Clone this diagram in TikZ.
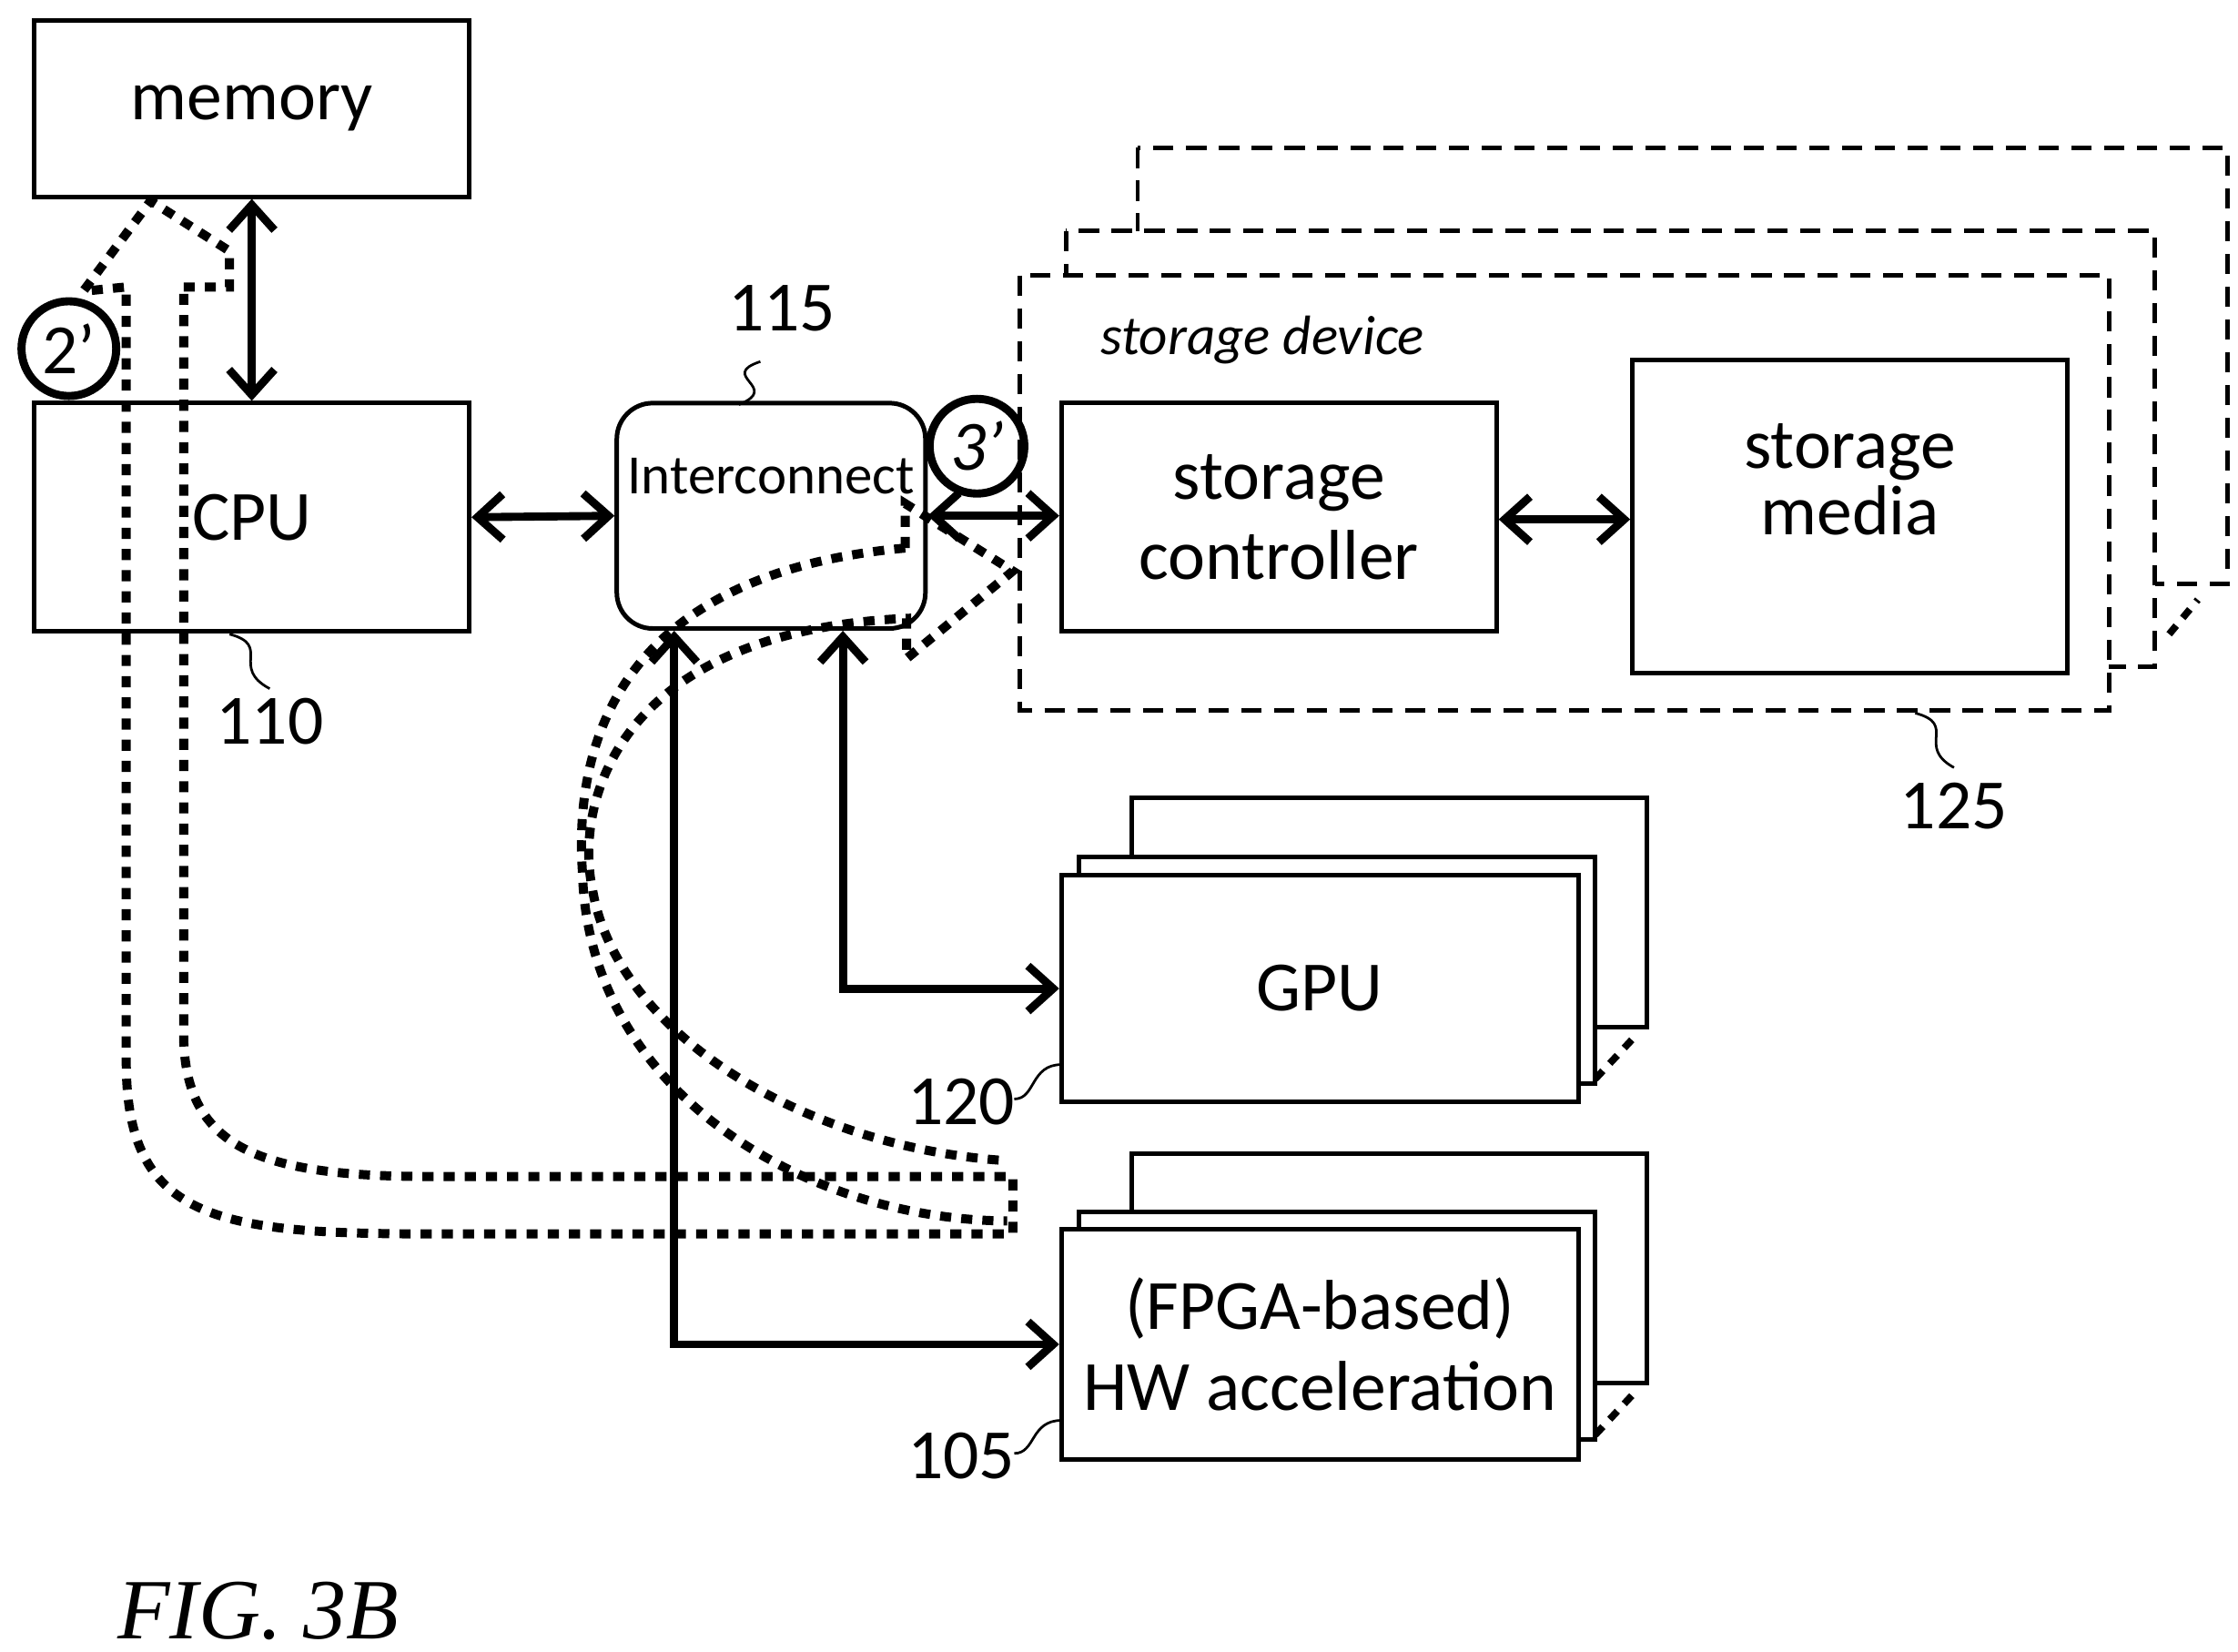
\documentclass[tikz,border=0pt]{standalone}
\usepackage{fontspec}
\setmainfont{Carlito}
\newfontfamily\figfont{Liberation Serif}
\usetikzlibrary{arrows.meta}

\tikzset{
  box/.style={draw, line width=0.9pt, fill=white, inner sep=0pt, font=\fontsize{14}{16}\selectfont, align=center},
  stackbox/.style={draw, line width=0.9pt, fill=white},
  dev/.style={draw, line width=0.9pt, dashed, dash pattern=on 4pt off 2.5pt, fill=white},
  biarrow/.style={line width=1.6pt, {Straight Barb[length=5pt,width=9pt]}-{Straight Barb[length=5pt,width=9pt]}},
  flow/.style={line width=1.8pt, dash pattern=on 2.2pt off 2pt},
  num/.style={font=\fontsize{14}{16}\selectfont},
  tag/.style={draw, circle, line width=1.6pt, minimum size=0.66cm, inner sep=0pt, font=\fontsize{14}{16}\selectfont},
  squig/.style={line width=0.5pt}
}

\begin{document}
\begin{tikzpicture}[x=0.01cm, y=-0.01cm]
  \useasboundingbox (0,0) rectangle (1560,1151);

  % storage device stack
  \draw [dev] (793,103) rectangle (1553,407);
  \draw [dev] (743,161) rectangle (1502,465);
  \draw [dev] (711,192) rectangle (1470,495);
  \draw [flow, line width=1.4pt] (1512,442) -- (1532,418);
  \node [font=\itshape\fontsize{11}{13}\selectfont] (sdev) at (880,237) {storage device};

  % GPU and accelerator stacks
  \foreach \y/\n in {0/gpu, 248/fpga} {
    \draw [stackbox] (789,556+\y) rectangle (1148,716+\y);
    \draw [stackbox] (752,597+\y) rectangle (1112,755+\y);
    \draw [flow, line width=1.4pt] (1112,752+\y) -- (1140,722+\y);
  }

  % main blocks
  \node [box, minimum width=3.03cm, minimum height=1.23cm] (memory) at (175.5,75.5) {memory};
  \node [box, minimum width=3.03cm, minimum height=1.59cm] (cpu) at (175.5,360.5) {CPU};
  \node [box, minimum width=2.15cm, minimum height=1.57cm, rounded corners=0.25cm,
         font=\fontsize{11}{13}\selectfont] (ic) at (537.5,359.5) {\raisebox{0.55cm}{Interconnect}};
  \node [box, minimum width=3.03cm, minimum height=1.59cm] (ctrl) at (891.5,360.5) {storage\\controller};
  \node [box, minimum width=3.03cm, minimum height=2.18cm, font=\fontsize{14}{12}\selectfont] (media) at (1289.5,360) {storage\\media\\[0.1cm]};
  \node [box, minimum width=3.60cm, minimum height=1.58cm] (gpu) at (920,689) {GPU};
  \node [box, minimum width=3.60cm, minimum height=1.60cm] (fpga) at (920,937) {(FPGA-based)\\HW acceleration};

  % connections
  \draw [biarrow] (memory.south) -- (cpu.north);
  \draw [biarrow] (cpu.east) -- (ic.west);
  \draw [biarrow] (ic.east) -- (ic.east -| ctrl.west);
  \draw [biarrow] (ctrl.east |- 0,362) -- (media.west |- 0,362);
  \draw [biarrow] ([xshift=0.5cm]ic.south) |- (gpu.west);
  \draw [biarrow] ([xshift=-0.675cm]ic.south) |- (fpga.west);

  % flow 2': accelerator to memory
  \draw [flow] (128,200) -- (160,200) -- (160,175) -- (105,140) -- (58,203) -- (88,200)
    -- (88,740) .. controls (88,850) and (150,860) .. (300,860) -- (706,860) -- (706,820)
    -- (300,820) .. controls (180,820) and (128,800) .. (128,720) -- cycle;

  % flow 3': accelerator to storage
  \draw [flow] (631,382) -- (631,351) -- (706,398) -- (632,459) -- (632,431)
    .. controls (430,440) and (400,560) .. (413,620)
    .. controls (430,720) and (560,800) .. (702,809);
  \draw [flow] (631,382)
    .. controls (430,400) and (400,520) .. (406,608)
    .. controls (410,760) and (560,850) .. (702,851);

  % tags
  \node [tag] (t2) at (48,243) {2’};
  \node [tag, font=\itshape\fontsize{14}{16}\selectfont] (t3) at (681,311) {3’};

  % reference numbers
  \node [num] (n115) at (545,215) {115};
  \draw [squig] (530,252) .. controls (500,262) and (545,270) .. (515,282);
  \node [num] (n110) at (188,503) {110};
  \draw [squig] (160,442) .. controls (190,450) and (160,465) .. (188,480);
  \node [num] (n125) at (1362,562) {125};
  \draw [squig] (1335,497) .. controls (1365,505) and (1335,520) .. (1362,535);
  \node [num] (n120) at (670,768) {120};
  \draw [squig] (707,766) .. controls (722,766) and (718,742) .. (740,742);
  \node [num] (n105) at (670,1015) {105};
  \draw [squig] (707,1013) .. controls (722,1013) and (718,990) .. (740,990);

  \node [font=\figfont\itshape\fontsize{17}{20}\selectfont] (fig) at (180,1123) {FIG. 3B};
\end{tikzpicture}
\end{document}
